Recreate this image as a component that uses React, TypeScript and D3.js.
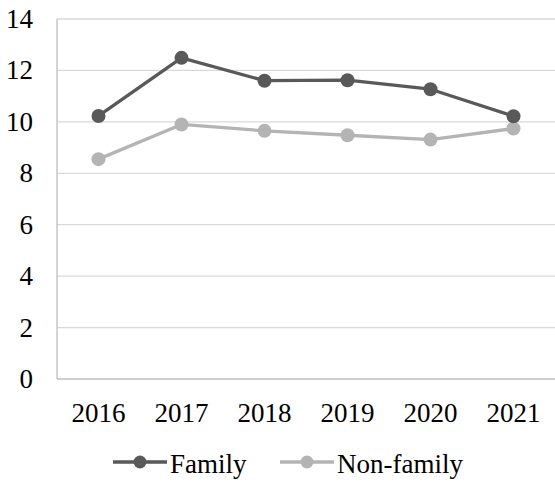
import * as d3 from "d3";

const anos = ["2016", "2017", "2018", "2019", "2020", "2021"];
const family = [10.23, 12.49, 11.6, 11.62, 11.27, 10.22];
const nonFamily = [8.55, 9.9, 9.65, 9.48, 9.31, 9.74];
const yTicks = [0, 2, 4, 6, 8, 10, 12, 14];

const series = [
  { nome: "Family", valores: family, cor: "#595959" },
  { nome: "Non-family", valores: nonFamily, cor: "#b4b4b4" },
];

const width = 555;
const height = 487;
const FONTE = '"Liberation Serif"';

const margin = { top: 19, right: 0, bottom: 108, left: 57 };
const innerW = width - margin.left - margin.right;
const innerH = height - margin.top - margin.bottom;

const x = d3.scaleBand().domain(anos).range([0, innerW]);
const y = d3.scaleLinear().domain([0, 14]).range([innerH, 0]);
const cx = (i: number) => (x(anos[i]) ?? 0) + x.bandwidth() / 2;

const linha = d3
  .line<number>()
  .x((_, i) => cx(i))
  .y((d) => y(d));

const texto = { fontFamily: FONTE, fontSize: 27 };

export default function App() {
  return (
    <div style={{ position: "absolute", left: 0, top: 0 }}>
      <svg width={width} height={height} style={{ display: "block", background: "#fff" }}>
        <g transform={`translate(${margin.left},${margin.top})`}>
          {/* grade */}
          {yTicks.filter((t) => t > 0).map((t) => (
            <line key={t} x1={0} x2={innerW} y1={y(t)} y2={y(t)} stroke="#d9d9d9" strokeWidth={1.3} />
          ))}
          <line x1={0} x2={0} y1={y(14)} y2={y(0)} stroke="#bfbfbf" strokeWidth={1.3} />
          <line x1={0} x2={innerW} y1={y(0)} y2={y(0)} stroke="#bfbfbf" strokeWidth={1.3} />

          {/* rótulos Y */}
          {yTicks.map((t) => (
            <text key={t} x={-24} y={y(t) + 9} textAnchor="end" fill="#000" style={texto}>
              {t}
            </text>
          ))}

          {/* rótulos X */}
          {anos.map((a, i) => (
            <text key={a} x={cx(i)} y={innerH + 43} textAnchor="middle" fill="#000" style={texto}>
              {a}
            </text>
          ))}

          {/* séries, a clara por baixo */}
          {[...series].reverse().map((s) => (
            <g key={s.nome}>
              <path d={linha(s.valores) ?? ""} fill="none" stroke={s.cor} strokeWidth={3.3} strokeLinejoin="round" />
              {s.valores.map((v, i) => (
                <circle key={i} cx={cx(i)} cy={y(v)} r={7} fill={s.cor} />
              ))}
            </g>
          ))}
        </g>

        {/* legenda */}
        <g transform="translate(113, 462)">
          {series.map((s, i) => {
            const x0 = i * 167;
            return (
              <g key={s.nome}>
                <line x1={x0} x2={x0 + 54} y1={0} y2={0} stroke={s.cor} strokeWidth={3.3} />
                <circle cx={x0 + 27} cy={0} r={6.5} fill={s.cor} />
                <text x={x0 + 57} y={11} fill="#000" style={texto}>
                  {s.nome}
                </text>
              </g>
            );
          })}
        </g>
      </svg>
    </div>
  );
}
